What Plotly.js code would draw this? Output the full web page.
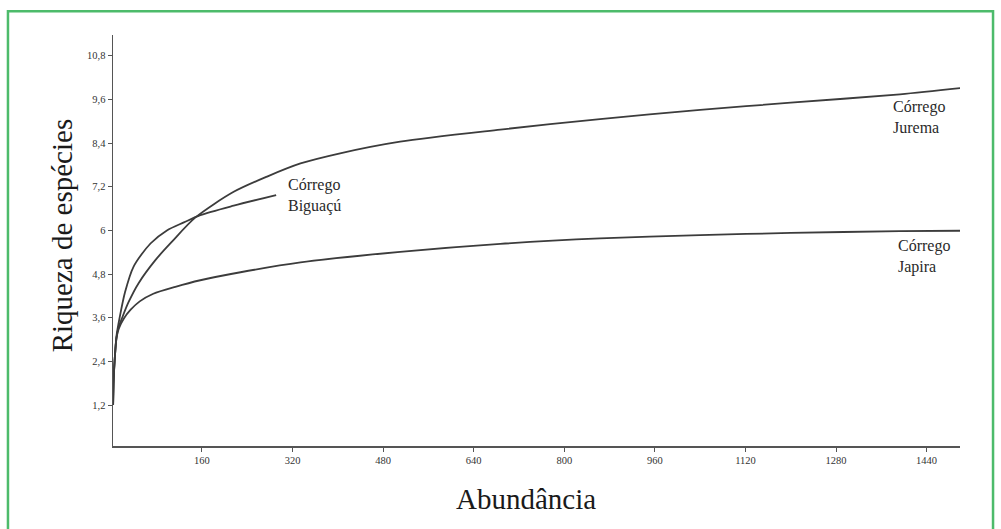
<!DOCTYPE html>
<html>
<head>
<meta charset="utf-8">
<script src="https://cdn.plot.ly/plotly-3.0.1.min.js"></script>
<style>
  html, body { margin: 0; padding: 0; background: #ffffff; }
  #chart { width: 1001px; height: 529px; }
</style>
</head>
<body>
<div id="chart"></div>
<script>
// Rarefaction curves: species richness against number of individuals sampled
const juremaX = [3, 4, 6, 9, 13, 19, 30, 48, 78, 107, 148, 216, 275, 334, 404, 510, 687, 863, 1040, 1200, 1393, 1500];
const juremaY = [1.2, 1.9, 2.5, 3.05, 3.35, 3.6, 4.02, 4.55, 5.19, 5.69, 6.35, 7.06, 7.48, 7.84, 8.12, 8.44, 8.77, 9.06, 9.31, 9.51, 9.74, 9.91];

const biguacuX = [3, 4, 6, 9, 14.5, 24, 39, 69, 98, 128, 157, 216, 291];
const biguacuY = [1.2, 1.9, 2.5, 3.1, 3.6, 4.3, 5.0, 5.64, 6.0, 6.22, 6.42, 6.68, 6.97];

const japiraX = [3, 4, 6, 9, 13, 22, 34, 50, 74, 113, 157, 228, 334, 510, 687, 863, 1040, 1200, 1393, 1500];
const japiraY = [1.2, 1.9, 2.5, 3.05, 3.3, 3.58, 3.82, 4.05, 4.26, 4.45, 4.63, 4.85, 5.12, 5.41, 5.63, 5.78, 5.87, 5.93, 5.98, 5.99];

const seriesNames = ['Córrego Jurema', 'Córrego Biguaçú', 'Córrego Japira'];
const labelTexts = ['Córrego<br>Jurema', 'Córrego<br>Biguaçú', 'Córrego<br>Japira'];

const xTickVals = [160, 320, 480, 640, 800, 960, 1120, 1280, 1440];
const xTickText = ['160', '320', '480', '640', '800', '960', '1120', '1280', '1440'];
const yTickVals = [1.2, 2.4, 3.6, 4.8, 6, 7.2, 8.4, 9.6, 10.8];
const yTickText = ['1,2', '2,4', '3,6', '4,8', '6', '7,2', '8,4', '9,6', '10,8'];

const serif = '"Liberation Serif", "Times New Roman", serif';
const curveLine = { color: '#3c3c3c', width: 1.8, shape: 'spline', smoothing: 0.8 };

const traces = [
  { x: juremaX, y: juremaY, name: seriesNames[0], mode: 'lines', line: curveLine },
  { x: biguacuX, y: biguacuY, name: seriesNames[1], mode: 'lines', line: curveLine },
  { x: japiraX, y: japiraY, name: seriesNames[2], mode: 'lines', line: curveLine }
];

const labelFont = { family: serif, size: 16, color: '#2a2a2a' };

const layout = {
  width: 1001,
  height: 529,
  margin: { l: 113, r: 41, t: 35, b: 83 },
  paper_bgcolor: '#ffffff',
  plot_bgcolor: '#ffffff',
  showlegend: false,
  xaxis: {
    range: [2.8, 1499],
    tickvals: xTickVals,
    ticktext: xTickText,
    ticks: 'outside',
    ticklen: 4,
    tickcolor: '#555555',
    tickfont: { family: serif, size: 10.5, color: '#333333' },
    showline: true,
    linecolor: '#555555',
    linewidth: 1.5,
    showgrid: false,
    zeroline: false
  },
  yaxis: {
    range: [0.075, 11.37],
    tickvals: yTickVals,
    ticktext: yTickText,
    ticks: 'outside',
    ticklen: 4,
    tickcolor: '#555555',
    tickfont: { family: serif, size: 10.5, color: '#333333' },
    showline: true,
    linecolor: '#555555',
    linewidth: 1.5,
    showgrid: false,
    zeroline: false
  },
  annotations: [
    { x: 1377, y: 9.12, xref: 'x', yref: 'y', text: labelTexts[0], showarrow: false,
      xanchor: 'left', yanchor: 'middle', align: 'left', font: labelFont },
    { x: 308, y: 6.96, xref: 'x', yref: 'y', text: labelTexts[1], showarrow: false,
      xanchor: 'left', yanchor: 'middle', align: 'left', font: labelFont },
    { x: 1386, y: 5.27, xref: 'x', yref: 'y', text: labelTexts[2], showarrow: false,
      xanchor: 'left', yanchor: 'middle', align: 'left', font: labelFont },
    { x: 0.488, y: -0.129, xref: 'paper', yref: 'paper', text: 'Abundância', showarrow: false,
      xanchor: 'center', yanchor: 'middle', font: { family: serif, size: 29, color: '#1a1a1a' } },
    { x: -0.06, y: 0.513, xref: 'paper', yref: 'paper', text: 'Riqueza de espécies', showarrow: false,
      textangle: -90, xanchor: 'center', yanchor: 'middle', font: { family: serif, size: 29, color: '#1a1a1a' } }
  ],
  shapes: [
    { type: 'rect', xref: 'paper', yref: 'paper',
      x0: -0.124, x1: 1.039, y0: -0.23, y1: 1.058,
      line: { color: '#4dbb6b', width: 2.5 }, fillcolor: 'rgba(0,0,0,0)', layer: 'below' }
  ]
};

Plotly.newPlot('chart', traces, layout, { staticPlot: true, displayModeBar: false });
</script>
</body>
</html>
